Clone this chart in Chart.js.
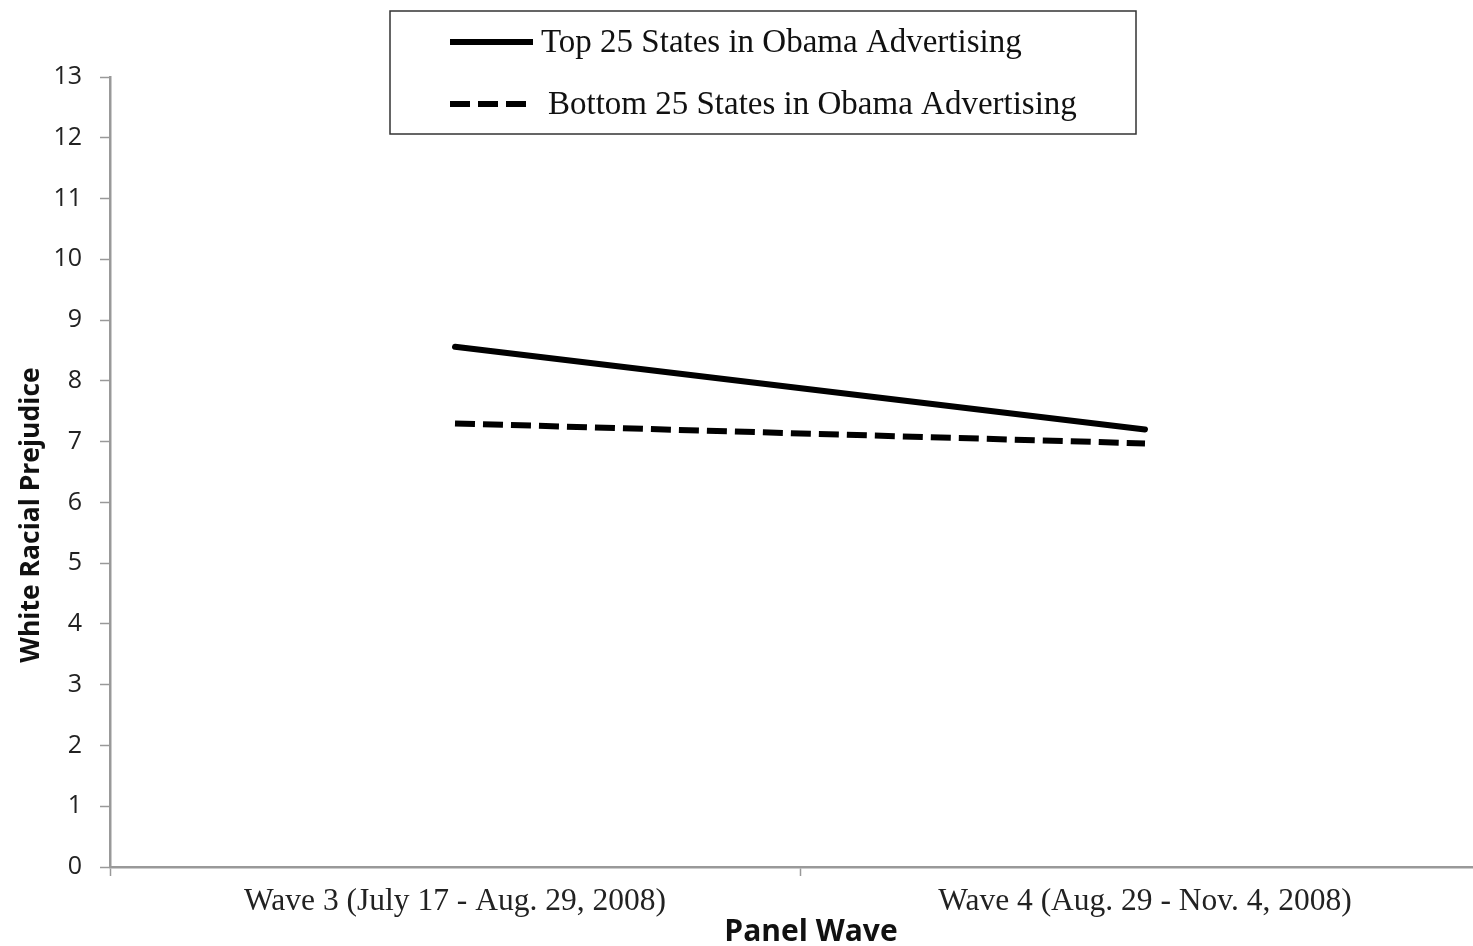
<!DOCTYPE html>
<html><head><meta charset="utf-8">
<script src="https://cdn.jsdelivr.net/npm/chart.js@4"></script>
<style>html,body{margin:0;padding:0;overflow:hidden;background:#fff}#wrap{width:1500px;height:946px}</style>
</head><body><div id="wrap"><canvas id="c" width="1500" height="946"></canvas></div>
<script>
const categories = ["Wave 3 (July 17 - Aug. 29, 2008)", "Wave 4 (Aug. 29 - Nov. 4, 2008)"];
const topStates = [8.56, 7.2];
const bottomStates = [7.3, 6.97];
const seriesLabels = ["Top 25 States in Obama Advertising", "Bottom 25 States in Obama Advertising"];
const yTitle = "White Racial Prejudice";
const xTitle = "Panel Wave";

const serif = "'Liberation Serif', 'Times New Roman', serif";
const sans = "'Open Sans', 'Liberation Sans', sans-serif";

const extras = {
  id: 'extras',
  afterDraw(chart) {
    const ctx = chart.ctx;
    ctx.save();
    ctx.fillStyle = '#111';
    ctx.font = "bold 26.5px " + sans;
    ctx.textAlign = 'center'; ctx.textBaseline = 'middle';
    ctx.translate(31, 515); ctx.rotate(-Math.PI/2);
    ctx.fillText(yTitle, 0, 0);
    ctx.setTransform(1,0,0,1,0,0);
    ctx.font = "bold 30px " + sans;
    ctx.fillText(xTitle, 811, 932);
    ctx.strokeStyle = '#333'; ctx.lineWidth = 1.5;
    ctx.strokeRect(390, 11, 746, 123);
    ctx.lineWidth = 6; ctx.strokeStyle = '#000';
    ctx.beginPath(); ctx.setLineDash([]); ctx.moveTo(450, 42); ctx.lineTo(533, 42); ctx.stroke();
    ctx.beginPath(); ctx.setLineDash([20, 8]); ctx.moveTo(450, 104); ctx.lineTo(526, 104); ctx.stroke();
    ctx.setLineDash([]);
    ctx.font = "33px " + serif; ctx.textAlign = 'left'; ctx.fillStyle = '#111';
    ctx.fillText(chart.data.datasets[0].label, 541, 43);
    ctx.fillText(chart.data.datasets[1].label, 548, 105);
    ctx.restore();
  }
};

new Chart(document.getElementById('c'), {
  type: 'line',
  data: {
    labels: categories,
    datasets: [
      { label: seriesLabels[0], data: topStates, borderColor: '#000', borderWidth: 6, pointRadius: 0, borderCapStyle: 'round', fill: false, tension: 0 },
      { label: seriesLabels[1], data: bottomStates, borderColor: '#000', borderWidth: 6, pointRadius: 0, borderDash: [20, 8], borderCapStyle: 'butt', fill: false, tension: 0 }
    ]
  },
  options: {
    responsive: false, animation: false, devicePixelRatio: 1,
    layout: { padding: { top: 77, right: 10, left: 0, bottom: 0 } },
    plugins: { legend: { display: false }, tooltip: { enabled: false } },
    scales: {
      x: {
        offset: true,
        grid: { offset: true, drawOnChartArea: false, color: '#999', tickLength: 9, tickWidth: 1.5 },
        border: { color: '#999', width: 2.5 },
        ticks: { color: '#222', font: { family: serif, size: 31.5 }, padding: 7, maxRotation: 0 },
        afterFit(s) { s.height = 79; }
      },
      y: {
        min: 0, max: 13,
        ticks: { stepSize: 1, color: '#222', font: { family: sans, size: 25 }, padding: 18 },
        grid: { drawOnChartArea: false, color: '#999', tickLength: 10, tickWidth: 1.5 },
        border: { color: '#999', width: 2.5 },
        afterFit(s) { s.width = 110; }
      }
    }
  },
  plugins: [extras]
});
</script></body></html>
